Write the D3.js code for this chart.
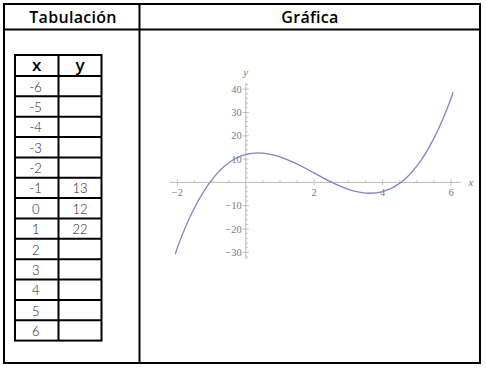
<!DOCTYPE html>
<html>
<head>
<meta charset="utf-8">
<script src="https://cdn.jsdelivr.net/npm/d3@7"></script>
<style>
  body { margin: 0; background: #fff; }
  svg { display: block; }
</style>
</head>
<body>
<div id="chart"></div>
<script>
// table values (as written in the picture)
const tableX = ["-6", "-5", "-4", "-3", "-2", "-1", "0", "1", "2", "3", "4", "5", "6"];
const tableY = ["", "", "", "", "", "13", "12", "22", "", "", "", "", ""];

// curve points
const curveX = [-2.06, -2, -1.5, -1, -0.5, 0, 0.5, 1, 1.5, 2, 2.5, 3, 3.5, 4, 4.5, 5, 5.5, 6, 6.06];
const curveY = [-30.9, -28, -10.9, 1, 8.4, 12, 12.6, 11, 7.9, 4, 0.1, -3, -4.6, -4, -0.4, 7, 18.9, 36, 38.8];

const xTicks = [-2, 2, 4, 6];
const yTicks = [-30, -20, -10, 10, 20, 30, 40];

const width = 486, height = 371;
const svg = d3.select("#chart")
  .append("svg")
  .attr("width", width)
  .attr("height", height);

const headFont = "'Open Sans', Lato, sans-serif";

// outer frame
const frame = svg.append("g")
  .attr("fill", "none")
  .attr("stroke", "#000")
  .attr("stroke-width", 2);
frame.append("rect").attr("x", 4).attr("y", 4).attr("width", 476).attr("height", 359);
frame.append("line").attr("x1", 4).attr("x2", 480).attr("y1", 29.5).attr("y2", 29.5);
frame.append("line").attr("x1", 139.5).attr("x2", 139.5).attr("y1", 4).attr("y2", 363);

svg.append("text")
  .attr("x", 73).attr("y", 17)
  .attr("dy", "0.35em")
  .attr("text-anchor", "middle")
  .style("font-family", headFont)
  .style("font-size", "16px")
  .style("font-weight", "600")
  .style("letter-spacing", "0.3px")
  .text("Tabulación");

svg.append("text")
  .attr("x", 310).attr("y", 17)
  .attr("dy", "0.35em")
  .attr("text-anchor", "middle")
  .style("font-family", headFont)
  .style("font-size", "16px")
  .style("font-weight", "600")
  .style("letter-spacing", "0.3px")
  .text("Gráfica");

// inner x/y table
const tLeft = 15, tMid = 58.5, tRight = 101.5, tTop = 55, headH = 21;
const rowH = d3.scaleBand()
  .domain(d3.range(tableX.length))
  .range([tTop + headH, 340.6]);

const tbl = svg.append("g");
tbl.append("rect")
  .attr("x", tLeft).attr("y", tTop)
  .attr("width", tRight - tLeft).attr("height", 340.6 - tTop)
  .attr("fill", "none").attr("stroke", "#000").attr("stroke-width", 2);
tbl.append("line")
  .attr("x1", tMid).attr("x2", tMid).attr("y1", tTop).attr("y2", 340.6)
  .attr("stroke", "#000").attr("stroke-width", 2);
tbl.selectAll("line.row")
  .data(d3.range(tableX.length))
  .join("line")
  .attr("class", "row")
  .attr("x1", tLeft).attr("x2", tRight)
  .attr("y1", d => rowH(d)).attr("y2", d => rowH(d))
  .attr("stroke", "#000").attr("stroke-width", 2);

tbl.selectAll("text.head")
  .data(["x", "y"])
  .join("text")
  .attr("class", "head")
  .attr("x", (d, i) => i === 0 ? (tLeft + tMid) / 2 : (tMid + tRight) / 2)
  .attr("y", tTop + headH / 2)
  .attr("dy", "0.35em")
  .attr("text-anchor", "middle")
  .style("font-family", headFont)
  .style("font-size", "17px")
  .style("font-weight", "600")
  .text(d => d);

const cellFont = "Lato, 'Open Sans', sans-serif";
tbl.selectAll("text.cx")
  .data(tableX)
  .join("text")
  .attr("class", "cx")
  .attr("x", (tLeft + tMid) / 2 - 1)
  .attr("y", (d, i) => rowH(i) + rowH.bandwidth() / 2 + 1)
  .attr("dy", "0.35em")
  .attr("text-anchor", "middle")
  .style("font-family", cellFont)
  .style("font-size", "13px")
  .style("font-weight", "300")
  .attr("fill", "#222")
  .text(d => d);

tbl.selectAll("text.cy")
  .data(tableY)
  .join("text")
  .attr("class", "cy")
  .attr("x", (tMid + tRight) / 2)
  .attr("y", (d, i) => rowH(i) + rowH.bandwidth() / 2 + 1)
  .attr("dy", "0.35em")
  .attr("text-anchor", "middle")
  .style("font-family", cellFont)
  .style("font-size", "13px")
  .style("font-weight", "300")
  .attr("fill", "#222")
  .text(d => d);

// graph
const x = d3.scaleLinear().domain([-2, 6]).range([177.4, 451]);
const y = d3.scaleLinear().domain([-30, 40]).range([252.3, 89.2]);
const axisColor = "#bbb";
const labelColor = "#7a7a7a";
const serif = "'Liberation Serif', 'DejaVu Serif', serif";

const g = svg.append("g");

// x axis line + ticks
g.append("line")
  .attr("x1", 170).attr("x2", 461)
  .attr("y1", y(0)).attr("y2", y(0))
  .attr("stroke", axisColor);
g.selectAll("line.xt")
  .data(d3.range(-2, 6.01, 0.5).filter(v => v !== 0))
  .join("line")
  .attr("class", "xt")
  .attr("x1", d => x(d)).attr("x2", d => x(d))
  .attr("y1", d => y(0) - (d % 2 === 0 ? 3 : 2))
  .attr("y2", d => y(0) + (d % 2 === 0 ? 3 : 0))
  .attr("stroke", axisColor);
g.selectAll("text.xl")
  .data(xTicks)
  .join("text")
  .attr("class", "xl")
  .attr("x", d => x(d))
  .attr("y", y(0) + 10)
  .attr("dy", "0.35em")
  .attr("text-anchor", "middle")
  .style("font-family", serif)
  .style("font-size", "10.5px")
  .attr("fill", labelColor)
  .text(d => d < 0 ? "\u2212" + Math.abs(d) : d);

// y axis line + ticks
g.append("line")
  .attr("x1", x(0)).attr("x2", x(0))
  .attr("y1", 83).attr("y2", 259)
  .attr("stroke", axisColor);
g.selectAll("line.yt")
  .data(d3.range(-32, 42.01, 2).filter(v => v !== 0))
  .join("line")
  .attr("class", "yt")
  .attr("x1", d => x(0) - (d % 10 === 0 ? 3 : 0))
  .attr("x2", d => x(0) + (d % 10 === 0 ? 3 : 2))
  .attr("y1", d => y(d)).attr("y2", d => y(d))
  .attr("stroke", axisColor);
g.selectAll("text.yl")
  .data(yTicks)
  .join("text")
  .attr("class", "yl")
  .attr("x", x(0) - 4)
  .attr("y", d => y(d))
  .attr("dy", "0.35em")
  .attr("text-anchor", "end")
  .style("font-family", serif)
  .style("font-size", "10.5px")
  .attr("fill", labelColor)
  .text(d => d < 0 ? "\u2212" + Math.abs(d) : d);

g.append("text")
  .attr("x", 471).attr("y", y(0))
  .attr("dy", "0.3em")
  .attr("text-anchor", "middle")
  .style("font-family", serif)
  .style("font-style", "italic")
  .style("font-size", "11px")
  .attr("fill", labelColor)
  .text("x");
g.append("text")
  .attr("x", x(0)).attr("y", 73)
  .attr("dy", "0.3em")
  .attr("text-anchor", "middle")
  .style("font-family", serif)
  .style("font-style", "italic")
  .style("font-size", "11px")
  .attr("fill", labelColor)
  .text("y");

// curve
const line = d3.line()
  .x(d => x(d[0]))
  .y(d => y(d[1]))
  .curve(d3.curveCatmullRom);
g.append("path")
  .datum(curveX.map((v, i) => [v, curveY[i]]))
  .attr("d", line)
  .attr("fill", "none")
  .attr("stroke", "#8282c8")
  .attr("stroke-width", 1.3);
</script>
</body>
</html>
